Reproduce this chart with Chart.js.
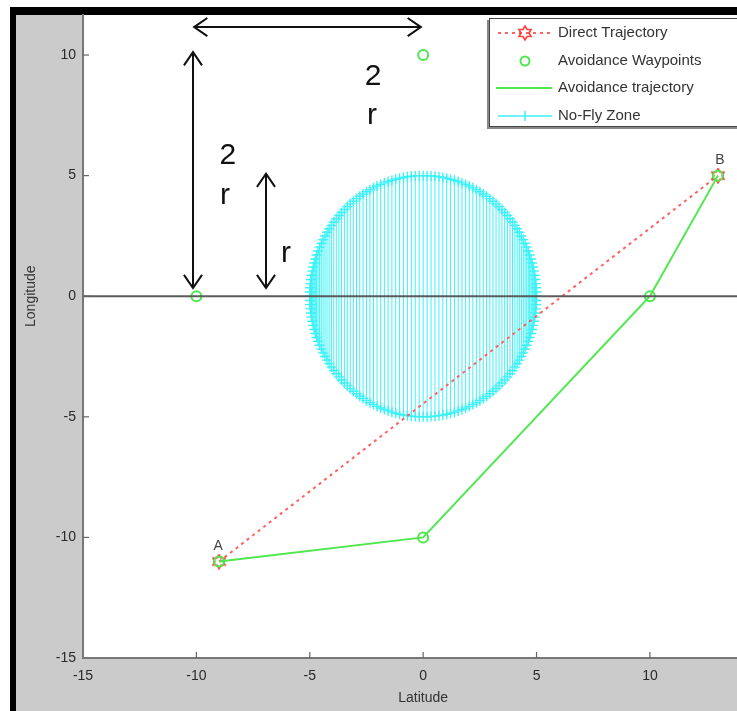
<!DOCTYPE html>
<html>
<head>
<meta charset="utf-8">
<script src="https://cdn.jsdelivr.net/npm/chart.js@4.4.0/dist/chart.umd.min.js"></script>
<style>
  html, body { margin: 0; padding: 0; background: #fff; overflow: hidden; }
  #wrap { width: 737px; height: 711px; position: relative; }
</style>
</head>
<body>
<div id="wrap"><canvas id="chart" width="737" height="711"></canvas></div>
<script>
// data
const pointA = { x: -9, y: -11 };
const pointB = { x: 13, y: 5 };
const directPath = [pointA, pointB];
const waypoints = [pointA, { x: -10, y: 0 }, { x: 0, y: 10 }, { x: 0, y: -10 }, { x: 10, y: 0 }, pointB];
const avoidancePath = [pointA, { x: 0, y: -10 }, { x: 10, y: 0 }, pointB];
const zoneCenter = { x: 0, y: 0 };
const zoneRadius = 5;
const zoneChords = 90;
const xTicks = [-15, -10, -5, 0, 5, 10];
const yTicks = [-15, -10, -5, 0, 5, 10];
const xRange = [-15, 13.84];
const yRange = [-15, 11.66];

const font = '"Liberation Sans", Arial, sans-serif';

// no-fly zone: vertical chords of the circle, gaps between them
const zonePoints = [];
for (let i = 0; i <= zoneChords; i++) {
  const t = Math.PI * i / zoneChords;
  const cx = zoneCenter.x + zoneRadius * Math.cos(t);
  const h = zoneRadius * Math.sin(t);
  zonePoints.push({ x: cx, y: zoneCenter.y - h }, { x: cx, y: zoneCenter.y + h }, { x: cx, y: NaN });
}

// hexagram marker like matlab 'h'
function hexagram(size, color) {
  const c = document.createElement("canvas");
  c.width = size; c.height = size;
  const g = c.getContext("2d");
  const r1 = size / 2 - 1, r2 = r1 * 0.58, m = size / 2;
  g.beginPath();
  for (let i = 0; i < 12; i++) {
    const a = -Math.PI / 2 + i * Math.PI / 6;
    const r = i % 2 ? r2 : r1;
    g.lineTo(m + r * Math.cos(a), m + r * Math.sin(a));
  }
  g.closePath();
  g.strokeStyle = color;
  g.lineWidth = 1.6;
  g.stroke();
  return c;
}
const hexRed = hexagram(16, "#ff4040");

const RED = "#ff6060", GREEN = "#4ee84e", CYAN = "#3cf2f6";

const framePlugin = {
  id: "frame",
  beforeDraw(chart) {
    const { ctx, chartArea: a } = chart;
    ctx.save();
    ctx.fillStyle = "#fff";
    ctx.fillRect(0, 0, 737, 711);
    ctx.fillStyle = "#000";
    ctx.fillRect(10, 7, 727, 704);
    ctx.fillStyle = "#cbcbcb";
    ctx.fillRect(16, 15, 721, 696);
    ctx.fillStyle = "#fff";
    ctx.fillRect(a.left, a.top, a.right - a.left, a.bottom - a.top);
    ctx.restore();
  },
  afterDatasetsDraw(chart) {
    const { ctx, chartArea: a, scales } = chart;
    const xs = scales.x, ys = scales.y;
    ctx.save();
    // zero line
    const y0 = ys.getPixelForValue(0);
    ctx.strokeStyle = "#5a5a5a";
    ctx.lineWidth = 2;
    ctx.beginPath(); ctx.moveTo(a.left, y0); ctx.lineTo(a.right, y0); ctx.stroke();

    // inward ticks
    ctx.strokeStyle = "#666";
    ctx.lineWidth = 1.2;
    xTicks.slice(1).forEach(v => {
      const px = xs.getPixelForValue(v);
      ctx.beginPath(); ctx.moveTo(px, a.bottom); ctx.lineTo(px, a.bottom - 6); ctx.stroke();
    });
    yTicks.slice(1).forEach(v => {
      const py = ys.getPixelForValue(v);
      ctx.beginPath(); ctx.moveTo(a.left, py); ctx.lineTo(a.left + 6, py); ctx.stroke();
    });

    // point labels
    ctx.fillStyle = "#444";
    ctx.font = "14px " + font;
    ctx.textAlign = "center";
    ctx.textBaseline = "bottom";
    ctx.fillText("A", xs.getPixelForValue(pointA.x) - 1, ys.getPixelForValue(pointA.y) - 8);
    ctx.fillText("B", xs.getPixelForValue(pointB.x) + 2, ys.getPixelForValue(pointB.y) - 8);

    // dimension arrows
    const P = (x, y) => [xs.getPixelForValue(x), ys.getPixelForValue(y)];
    function arrow(p, q) {
      ctx.beginPath(); ctx.moveTo(p[0], p[1]); ctx.lineTo(q[0], q[1]); ctx.stroke();
      [[p, q], [q, p]].forEach(([from, to]) => {
        const ang = Math.atan2(from[1] - to[1], from[0] - to[0]);
        ctx.beginPath();
        ctx.moveTo(to[0] + 16 * Math.cos(ang + 0.6), to[1] + 16 * Math.sin(ang + 0.6));
        ctx.lineTo(to[0], to[1]);
        ctx.lineTo(to[0] + 16 * Math.cos(ang - 0.6), to[1] + 16 * Math.sin(ang - 0.6));
        ctx.stroke();
      });
    }
    ctx.strokeStyle = "#111";
    ctx.lineWidth = 2;
    arrow(P(-10.1, 11.16), P(-0.1, 11.16));
    arrow(P(-10.15, 10.12), P(-10.15, 0.34));
    arrow(P(-6.93, 5.08), P(-6.93, 0.34));

    ctx.fillStyle = "#111";
    ctx.font = "30px " + font;
    ctx.textAlign = "center";
    ctx.textBaseline = "top";
    [["2", -2.21, 9.72], ["r", -2.26, 8.1], ["2", -8.61, 6.45], ["r", -8.74, 4.8], ["r", -6.05, 2.4]]
      .forEach(([t, x, y]) => { const p = P(x, y); ctx.fillText(t, p[0], p[1]); });

    // axis titles
    ctx.fillStyle = "#333";
    ctx.font = "14px " + font;
    ctx.textBaseline = "middle";
    ctx.fillText("Latitude", xs.getPixelForValue(0), 698);
    ctx.translate(31, ys.getPixelForValue(0));
    ctx.rotate(-Math.PI / 2);
    ctx.fillText("Longitude", 0, 0);
    ctx.restore();

    drawLegend(ctx);
  }
};

function drawLegend(ctx) {
  const L = 488, T = 18, B = 126;
  ctx.save();
  ctx.fillStyle = "#888";
  ctx.fillRect(L - 1, T + 2, 740 - L, B - T + 1);
  ctx.fillStyle = "#fff";
  ctx.fillRect(L + 1, T, 740 - L, B - T);
  ctx.strokeStyle = "#444";
  ctx.lineWidth = 1;
  ctx.strokeRect(L + 1.5, T + 0.5, 740 - L, B - T);

  const rows = [33, 61, 88, 116];
  const x1 = 498, x2 = 552, xm = 525;
  // direct
  ctx.strokeStyle = RED; ctx.lineWidth = 2; ctx.setLineDash([3, 4]);
  ctx.beginPath(); ctx.moveTo(x1, rows[0]); ctx.lineTo(x2, rows[0]); ctx.stroke();
  ctx.setLineDash([]);
  ctx.drawImage(hexRed, xm - 8, rows[0] - 8);
  // waypoints
  ctx.strokeStyle = GREEN; ctx.lineWidth = 2;
  ctx.beginPath(); ctx.arc(xm, rows[1], 4.5, 0, Math.PI * 2); ctx.stroke();
  // avoidance trajectory
  ctx.beginPath(); ctx.moveTo(x1 - 2, rows[2]); ctx.lineTo(x2, rows[2]); ctx.stroke();
  // no-fly
  ctx.strokeStyle = CYAN; ctx.lineWidth = 1.5;
  ctx.beginPath(); ctx.moveTo(x1, rows[3]); ctx.lineTo(x2, rows[3]);
  ctx.moveTo(xm, rows[3] - 5); ctx.lineTo(xm, rows[3] + 5); ctx.stroke();

  ctx.fillStyle = "#333";
  ctx.font = "15px " + font;
  ctx.textAlign = "left";
  ctx.textBaseline = "middle";
  ["Direct Trajectory", "Avoidance Waypoints", "Avoidance trajectory", "No-Fly Zone"]
    .forEach((t, i) => ctx.fillText(t, 558, rows[i]));
  ctx.restore();
}

new Chart(document.getElementById("chart"), {
  type: "line",
  data: {
    datasets: [
      {
        label: "Direct Trajectory", data: directPath, order: 3,
        borderColor: RED, borderWidth: 2, borderDash: [3, 4],
        pointStyle: hexRed, pointRadius: 8
      },
      {
        label: "Avoidance Waypoints", data: waypoints, order: 1, showLine: false,
        pointStyle: "circle", pointRadius: 5, pointBorderWidth: 2,
        pointBorderColor: GREEN, pointBackgroundColor: "rgba(0,0,0,0)"
      },
      {
        label: "Avoidance trajectory", data: avoidancePath, order: 2,
        borderColor: GREEN, borderWidth: 2, pointRadius: 0
      },
      {
        label: "No-Fly Zone", data: zonePoints, order: 4, spanGaps: false,
        borderColor: CYAN, borderWidth: 1,
        pointStyle: "cross", pointRadius: 5, pointBorderWidth: 1.4, pointBorderColor: CYAN
      }
    ]
  },
  options: {
    responsive: false,
    animation: false,
    parsing: false,
    normalized: true,
    layout: { autoPadding: false, padding: { left: 16, top: 15, right: 0, bottom: 0 } },
    plugins: { legend: { display: false }, tooltip: { enabled: false } },
    elements: { line: { tension: 0, fill: false } },
    scales: {
      x: {
        type: "linear", min: xRange[0], max: xRange[1],
        afterBuildTicks: s => { s.ticks = xTicks.map(v => ({ value: v })); },
        afterFit: s => { s.height = 53; s.paddingLeft = 0; s.paddingRight = 0; },
        grid: { display: false, drawTicks: false },
        border: { display: true, color: "#777", width: 2 },
        ticks: { padding: 10, color: "#2a2a2a", font: { family: font, size: 14 }, maxRotation: 0 }
      },
      y: {
        type: "linear", min: yRange[0], max: yRange[1],
        afterBuildTicks: s => { s.ticks = yTicks.map(v => ({ value: v })); },
        afterFit: s => { s.width = 67; s.paddingTop = 0; s.paddingBottom = 0; },
        grid: { display: false, drawTicks: false },
        border: { display: true, color: "#777", width: 2 },
        ticks: { padding: 7, color: "#2a2a2a", font: { family: font, size: 14 } }
      }
    }
  },
  plugins: [framePlugin]
});
</script>
</body>
</html>
